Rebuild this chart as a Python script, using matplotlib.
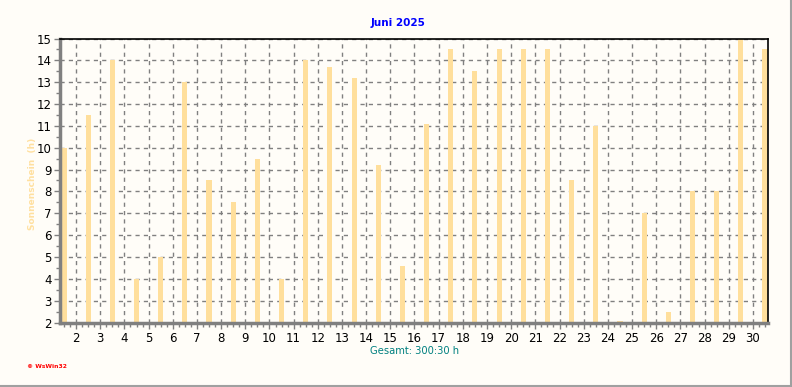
import numpy as np
import matplotlib.pyplot as plt
from matplotlib.ticker import MultipleLocator, FixedLocator
from matplotlib.lines import Line2D

# Sonnenschein Juni 2025 (Stunden je Tag)
days = list(range(1, 31))
sunshine = [10.0, 11.5, 14.0, 4.0, 5.0, 13.0, 8.5, 7.5, 9.5, 4.0,
            14.0, 13.7, 13.2, 9.2, 4.6, 11.1, 14.5, 13.5, 14.5, 14.5,
            14.5, 8.5, 11.0, 2.07, 7.0, 2.5, 8.0, 8.0, 15.0, 14.5]
tick_labels = [str(d) for d in range(2, 31)]
title = 'Juni 2025'
total = 'Gesamt: 300:30 h'

bg = '#fffdf8'
bar_col = '#ffdf9c'

fig = plt.figure(figsize=(7.92, 3.87), dpi=100, facecolor=bg)
W, H = 792.0, 387.0

# grauer Rahmen rechts und unten
fig.lines.append(Line2D([0, 1], [0.8 / H, 0.8 / H], transform=fig.transFigure,
                        color='#a0a0a0', linewidth=1.5))
fig.lines.append(Line2D([1 - 1.5 / W, 1 - 1.5 / W], [0, 1], transform=fig.transFigure,
                        color='#a0a0a0', linewidth=1.5))

ax = fig.add_axes([60 / W, (H - 322.5) / H, 708 / W, (322.5 - 38.5) / H])
ax.set_facecolor(bg)

ax.bar(days, sunshine, width=0.21, bottom=0, color=bar_col, zorder=2)

ax.set_xlim(0.835, 30.124)
ax.set_ylim(2, 15)

ax.xaxis.set_major_locator(FixedLocator([d - 0.5 for d in range(2, 31)]))
ax.set_xticklabels(tick_labels)
ax.xaxis.set_minor_locator(MultipleLocator(0.25))
ax.yaxis.set_major_locator(MultipleLocator(1))
ax.yaxis.set_minor_locator(MultipleLocator(0.5))

ax.tick_params(axis='both', which='major', length=4, width=1, color='#808080',
               labelsize=8.5, labelcolor='black', pad=2)
ax.tick_params(axis='both', which='minor', length=3, width=1, color='#808080')
ax.tick_params(axis='x', which='major', pad=3)

ax.grid(True, which='major', color='#808080', linestyle=(0, (3, 3)), linewidth=1, zorder=1)
ax.set_axisbelow(True)

for s in ['left', 'bottom']:
    ax.spines[s].set_color('#808080')
    ax.spines[s].set_linewidth(2.5)
for s in ['top', 'right']:
    ax.spines[s].set_color('black')
    ax.spines[s].set_linewidth(1.2)

fig.text(398 / W, 1 - 23 / H, title, color='#0000ff', fontsize=7.5, fontweight='bold',
         ha='center', va='center')
fig.text(32 / W, 1 - 184 / H, 'Sonnenschein  (h)', color='#ffe0a0', fontsize=6.5,
         fontweight='bold', rotation=90, ha='center', va='center')
fig.text(415 / W, 1 - 351 / H, total, color='#008080', fontsize=7.2,
         ha='center', va='center')
fig.text(27 / W, 1 - 367 / H, '\u00a9 WsWin32', color='#ff0000', fontsize=4.3,
         fontweight='bold', ha='left', va='center')

fig.savefig('out.png', dpi=100, facecolor=bg)
